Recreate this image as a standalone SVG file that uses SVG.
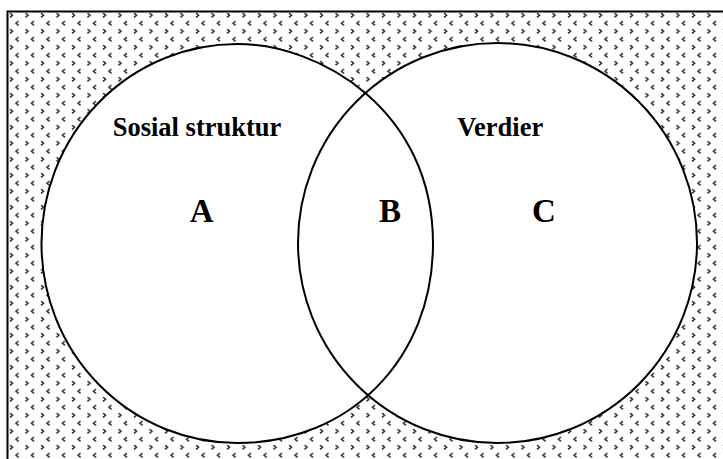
<svg xmlns="http://www.w3.org/2000/svg" width="723" height="459" viewBox="0 0 723 459">
  <style>
    .shape { fill: #ffffff; stroke: none; }
    .outline { fill: none; stroke: #000000; stroke-width: 2; }
    .title { font-family: "Liberation Serif", "Times New Roman", serif; font-weight: 700; font-size: 26.5px; fill: #000000; }
    .letter { font-family: "Liberation Serif", "Times New Roman", serif; font-weight: 700; font-size: 33px; fill: #000000; text-anchor: middle; }
    .mark { fill: none; stroke: #2a2a2a; stroke-width: 1.5; stroke-linejoin: miter; }
  </style>
  <defs>
    <pattern id="chevrons" patternUnits="userSpaceOnUse" x="9" y="13" width="15.5" height="16">
      <path class="mark" d="M1,0 L3.5,2.2 L1,4.4"/>
      <path class="mark" d="M9.5,8 L7,10.2 L9.5,12.4"/>
    </pattern>
  </defs>

  <g id="background">
    <rect x="8.5" y="12.5" width="714.5" height="446.5" fill="#ffffff"/>
    <rect x="8.5" y="12.5" width="714.5" height="446.5" fill="url(#chevrons)"/>
    <path class="outline" d="M7.5,459 V11.5 H723"/>
  </g>

  <g id="fills">
    <path class="shape" d="M41.5,243.5 A195.75,199.5 0 0 1 237.25,44 C320,44 433,110 433,243.5 C433,358.5 350,443 237.25,443 A195.75,199.5 0 0 1 41.5,243.5 Z"/>
    <ellipse class="shape" cx="497.5" cy="243" rx="199.5" ry="200"/>
  </g>

  <g id="node-sosial-struktur">
    <path class="outline" d="M41.5,243.5 A195.75,199.5 0 0 1 237.25,44 C320,44 433,110 433,243.5 C433,358.5 350,443 237.25,443 A195.75,199.5 0 0 1 41.5,243.5 Z"/>
    <text class="title" x="112.7" y="136">Sosial struktur</text>
    <text class="letter" x="201.7" y="222">A</text>
  </g>

  <g id="node-verdier">
    <ellipse class="outline" cx="497.5" cy="243" rx="199.5" ry="200"/>
    <text class="title" x="457.3" y="136">Verdier</text>
    <text class="letter" x="544" y="222">C</text>
  </g>

  <g id="node-overlap">
    <text class="letter" x="390" y="222">B</text>
  </g>

  <g id="connectors"></g>
</svg>
